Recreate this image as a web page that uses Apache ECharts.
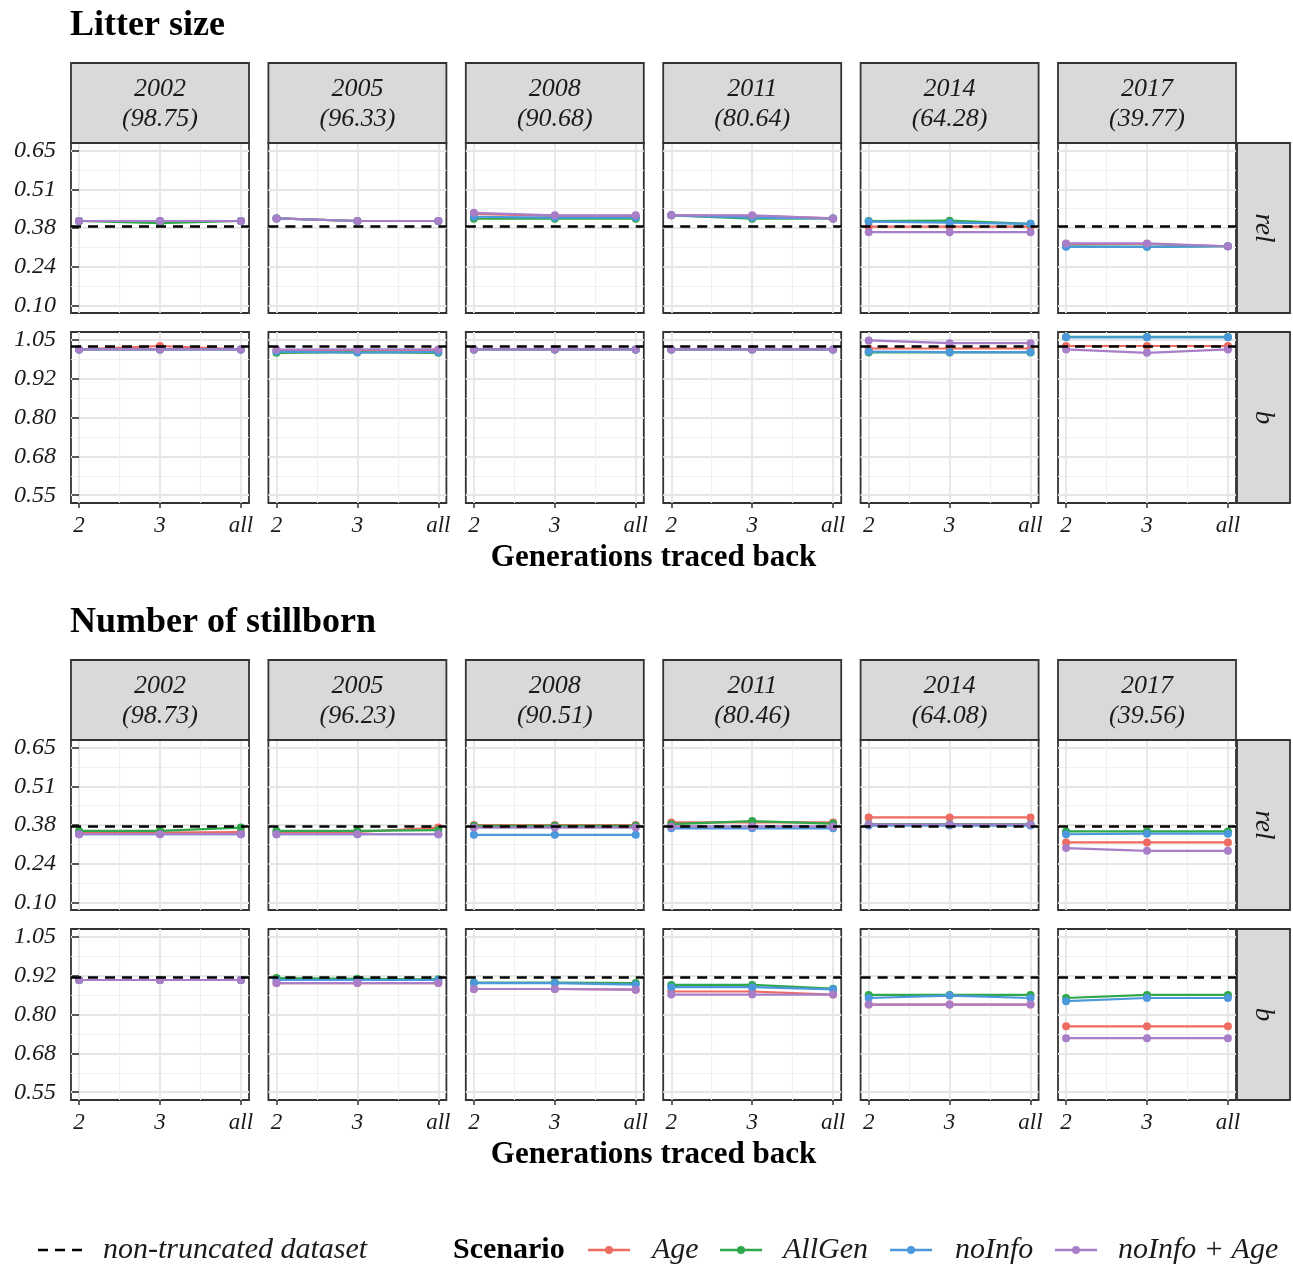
<!DOCTYPE html>
<html>
<head>
<meta charset="utf-8">
<script src="https://cdn.jsdelivr.net/npm/echarts@6/dist/echarts.min.js"></script>
<style>
  html, body { margin: 0; padding: 0; background: #ffffff; }
  #chart { width: 1293px; height: 1266px; }
</style>
</head>
<body>
<div id="chart"></div>
<script>
// ---- data ---------------------------------------------------------------
const generations = ['2', '3', 'all'];
const years = ['2002', '2005', '2008', '2011', '2014', '2017'];
const litterShares = ['98.75', '96.33', '90.68', '80.64', '64.28', '39.77'];
const stillbornShares = ['98.73', '96.23', '90.51', '80.46', '64.08', '39.56'];
const scenarios = ['Age', 'AllGen', 'noInfo', 'noInfo + Age'];

const relTicks = [0.1, 0.2375, 0.375, 0.5125, 0.65];
const relTickLabels = ['0.10', '0.24', '0.38', '0.51', '0.65'];
const bTicks = [0.55, 0.675, 0.8, 0.925, 1.05];
const bTickLabels = ['0.55', '0.68', '0.80', '0.92', '1.05'];

// values of the non-truncated dataset (dashed reference)
const litterRelRef = 0.379;
const litterBRef = 1.029;
const stillbornRelRef = 0.373;
const stillbornBRef = 0.922;

// Litter size – rel, one row per year, columns = generations traced back
const litterRelAge        = [[0.400, 0.400, 0.400], [0.409, 0.400, 0.400], [0.425, 0.418, 0.418], [0.420, 0.418, 0.409], [0.380, 0.380, 0.380], [0.318, 0.318, 0.310]];
const litterRelAllGen     = [[0.400, 0.392, 0.400], [0.409, 0.400, 0.400], [0.408, 0.408, 0.408], [0.420, 0.408, 0.409], [0.400, 0.401, 0.390], [0.310, 0.308, 0.310]];
const litterRelNoInfo     = [[0.400, 0.400, 0.400], [0.409, 0.400, 0.400], [0.415, 0.412, 0.412], [0.420, 0.412, 0.409], [0.398, 0.394, 0.390], [0.308, 0.308, 0.310]];
const litterRelNoInfoAge  = [[0.400, 0.400, 0.400], [0.409, 0.400, 0.400], [0.429, 0.420, 0.420], [0.420, 0.420, 0.409], [0.360, 0.360, 0.360], [0.320, 0.320, 0.310]];

// Litter size – b
const litterBAge          = [[1.019, 1.030, 1.019], [1.017, 1.017, 1.017], [1.019, 1.019, 1.019], [1.019, 1.019, 1.019], [1.022, 1.022, 1.022], [1.030, 1.030, 1.030]];
const litterBAllGen       = [[1.019, 1.019, 1.019], [1.008, 1.010, 1.008], [1.019, 1.019, 1.019], [1.019, 1.019, 1.019], [1.009, 1.009, 1.009], [1.059, 1.059, 1.059]];
const litterBNoInfo       = [[1.019, 1.019, 1.019], [1.012, 1.009, 1.011], [1.019, 1.019, 1.019], [1.019, 1.019, 1.019], [1.012, 1.010, 1.010], [1.058, 1.058, 1.058]];
const litterBNoInfoAge    = [[1.019, 1.019, 1.019], [1.018, 1.019, 1.019], [1.019, 1.019, 1.019], [1.019, 1.019, 1.019], [1.048, 1.039, 1.039], [1.019, 1.008, 1.019]];

// Number of stillborn – rel
const stillRelAge         = [[0.348, 0.348, 0.350], [0.350, 0.350, 0.366], [0.375, 0.375, 0.375], [0.384, 0.384, 0.384], [0.402, 0.402, 0.402], [0.313, 0.313, 0.313]];
const stillRelAllGen      = [[0.354, 0.354, 0.366], [0.354, 0.354, 0.357], [0.372, 0.372, 0.372], [0.378, 0.389, 0.380], [0.378, 0.378, 0.378], [0.352, 0.352, 0.352]];
const stillRelNoInfo      = [[0.342, 0.342, 0.342], [0.342, 0.342, 0.342], [0.340, 0.340, 0.340], [0.363, 0.363, 0.363], [0.373, 0.373, 0.373], [0.342, 0.344, 0.344]];
const stillRelNoInfoAge   = [[0.342, 0.342, 0.342], [0.342, 0.342, 0.342], [0.366, 0.366, 0.366], [0.370, 0.370, 0.370], [0.377, 0.377, 0.377], [0.293, 0.283, 0.283]];

// Number of stillborn – b
const stillBAge           = [[0.911, 0.911, 0.911], [0.901, 0.901, 0.901], [0.882, 0.882, 0.880], [0.874, 0.874, 0.864], [0.832, 0.832, 0.832], [0.762, 0.762, 0.762]];
const stillBAllGen        = [[0.911, 0.911, 0.911], [0.917, 0.915, 0.913], [0.903, 0.903, 0.901], [0.895, 0.895, 0.883], [0.863, 0.863, 0.863], [0.853, 0.863, 0.863]];
const stillBNoInfo        = [[0.911, 0.911, 0.911], [0.911, 0.911, 0.911], [0.901, 0.901, 0.896], [0.888, 0.888, 0.881], [0.853, 0.861, 0.853], [0.843, 0.853, 0.853]];
const stillBNoInfoAge     = [[0.911, 0.911, 0.911], [0.901, 0.901, 0.901], [0.882, 0.882, 0.880], [0.864, 0.864, 0.864], [0.832, 0.832, 0.832], [0.724, 0.724, 0.724]];

// ---- appearance ------------------------------------------------------------
const FONT = "'Liberation Serif', 'Times New Roman', serif";
const COLORS = ['#ee6b61', '#2fa84b', '#4b99dc', '#a87ec8'];
const INK = '#1a1a1a';
const FRAME = '#333333';
const GRID_MAJOR = '#e6e6e6';
const GRID_MINOR = '#f0f0f0';
const DASH = [10, 7];

const layout = {
  colLeft: 71,
  colStep: 197.4,
  panelW: 178,
  stripH: 80,
  rightStripX: 1237,
  rightStripW: 53,
  sections: [
    { titleY: 26, stripTop: 63, rowTops: [143, 332], rowH: [170, 171], xTitleY: 558 },
    { titleY: 623, stripTop: 660, rowTops: [740, 929], rowH: [170, 171], xTitleY: 1155 }
  ]
};

const traits = [
  {
    title: 'Litter size',
    shares: litterShares,
    rows: [
      { param: 'rel', ref: litterRelRef, ticks: relTicks, labels: relTickLabels,
        values: [litterRelAge, litterRelAllGen, litterRelNoInfo, litterRelNoInfoAge] },
      { param: 'b', ref: litterBRef, ticks: bTicks, labels: bTickLabels,
        values: [litterBAge, litterBAllGen, litterBNoInfo, litterBNoInfoAge] }
    ]
  },
  {
    title: 'Number of stillborn',
    shares: stillbornShares,
    rows: [
      { param: 'rel', ref: stillbornRelRef, ticks: relTicks, labels: relTickLabels,
        values: [stillRelAge, stillRelAllGen, stillRelNoInfo, stillRelNoInfoAge] },
      { param: 'b', ref: stillbornBRef, ticks: bTicks, labels: bTickLabels,
        values: [stillBAge, stillBAllGen, stillBNoInfo, stillBNoInfoAge] }
    ]
  }
];

// ---- build option -----------------------------------------------------------
const grid = [], xAxis = [], yAxis = [], series = [], graphic = [];
const xMajor = generations.map((_, k) => k);
const xMinor = xMajor.slice(1).map((v, i) => (v + xMajor[i]) / 2);
const xSpan = xMajor[xMajor.length - 1] - xMajor[0];
const xMin = xMajor[0] - xSpan * 0.05, xMax = xMajor[xMajor.length - 1] + xSpan * 0.05;

let g = 0;
traits.forEach((trait, t) => {
  const sec = layout.sections[t];

  // trait heading
  graphic.push({
    type: 'text', x: layout.colLeft - 1, y: sec.titleY,
    style: { text: trait.title, font: `bold 36px ${FONT}`, fill: '#000', align: 'left', verticalAlign: 'middle' }
  });

  // column strips
  years.forEach((year, c) => {
    const left = layout.colLeft + c * layout.colStep;
    graphic.push({
      type: 'rect', shape: { x: left, y: sec.stripTop, width: layout.panelW, height: layout.stripH },
      style: { fill: '#d9d9d9', stroke: FRAME, lineWidth: 1.8 }, z: 10
    });
    graphic.push({
      type: 'text', x: left + layout.panelW / 2, y: sec.stripTop + layout.stripH / 2 + 1, z: 11,
      style: { text: `${year}\n(${trait.shares[c]})`, font: `italic 26px ${FONT}`, lineHeight: 30,
               fill: INK, align: 'center', verticalAlign: 'middle' }
    });
  });

  // x-axis title
  graphic.push({
    type: 'text',
    x: (layout.colLeft + layout.colLeft + 5 * layout.colStep + layout.panelW) / 2, y: sec.xTitleY,
    style: { text: 'Generations traced back', font: `bold 31px ${FONT}`, fill: '#000', align: 'center', verticalAlign: 'middle' }
  });

  trait.rows.forEach((row, r) => {
    const top = sec.rowTops[r], h = sec.rowH[r];
    const lo = row.ticks[0], hi = row.ticks[row.ticks.length - 1];
    const span = hi - lo;
    const yMin = lo - span * 0.05, yMax = hi + span * 0.05;
    const yMinor = row.ticks.slice(1).map((v, i) => (v + row.ticks[i]) / 2);
    const isBottom = r === trait.rows.length - 1;
    const tickLabel = v => {
      const i = row.ticks.findIndex(tv => Math.abs(tv - v) < 1e-9);
      return i >= 0 ? row.labels[i] : '';
    };

    // row strip on the right
    graphic.push({
      type: 'rect', shape: { x: layout.rightStripX, y: top, width: layout.rightStripW, height: h },
      style: { fill: '#d9d9d9', stroke: FRAME, lineWidth: 1.8 }, z: 10
    });
    graphic.push({
      type: 'text', x: layout.rightStripX + layout.rightStripW / 2, y: top + h / 2, rotation: -Math.PI / 2, z: 11,
      style: { text: row.param, font: `italic 27px ${FONT}`, fill: INK, align: 'center', verticalAlign: 'middle' }
    });

    years.forEach((year, c) => {
      const isLeft = c === 0;
      const left = layout.colLeft + c * layout.colStep;
      grid.push({
        left, top, width: layout.panelW, height: h,
        show: true, backgroundColor: '#ffffff', borderColor: FRAME, borderWidth: 1.8
      });

      // major x axis (labels, ticks, major grid)
      xAxis.push({
        gridIndex: g, type: 'value', min: xMin, max: xMax,
        axisLine: { show: false },
        axisTick: { show: isBottom, customValues: xMajor, length: 5, lineStyle: { color: FRAME, width: 1.5 } },
        axisLabel: { show: isBottom, customValues: xMajor, formatter: v => generations[Math.round(v)],
                     margin: 11, fontFamily: FONT, fontStyle: 'italic', fontSize: 23, color: INK },
        splitLine: { show: true, lineStyle: { color: GRID_MAJOR, width: 1.8 } }
      });
      // minor x grid
      xAxis.push({
        gridIndex: g, type: 'value', min: xMin, max: xMax,
        axisLine: { show: false },
        axisTick: { show: false, customValues: xMinor },
        axisLabel: { show: false },
        splitLine: { show: true, lineStyle: { color: GRID_MINOR, width: 1.2 } }
      });
      // major y axis
      yAxis.push({
        gridIndex: g, type: 'value', min: yMin, max: yMax,
        axisLine: { show: false },
        axisTick: { show: isLeft, customValues: row.ticks, length: 7, lineStyle: { color: FRAME, width: 1.6 } },
        axisLabel: { show: isLeft, customValues: row.ticks, formatter: tickLabel,
                     margin: 15, fontFamily: FONT, fontStyle: 'italic', fontSize: 24, color: INK },
        splitLine: { show: true, lineStyle: { color: GRID_MAJOR, width: 1.8 } }
      });
      // minor y grid
      yAxis.push({
        gridIndex: g, type: 'value', min: yMin, max: yMax,
        axisLine: { show: false },
        axisTick: { show: false, customValues: yMinor },
        axisLabel: { show: false },
        splitLine: { show: true, lineStyle: { color: GRID_MINOR, width: 1.2 } }
      });

      // dashed reference for the non-truncated dataset
      series.push({
        type: 'line', name: 'non-truncated dataset',
        xAxisIndex: 2 * g, yAxisIndex: 2 * g, data: [], silent: true, z: 2,
        symbol: 'none', lineStyle: { color: '#000', type: DASH, width: 2.5 },
        markLine: {
          silent: true, symbol: 'none', animation: false,
          label: { show: false },
          lineStyle: { color: '#000', type: DASH, width: 2.5 },
          data: [{ yAxis: row.ref }]
        }
      });

      // one line per scenario
      scenarios.forEach((name, s) => {
        series.push({
          type: 'line', name,
          xAxisIndex: 2 * g, yAxisIndex: 2 * g, z: 3,
          data: generations.map((_, k) => [k, row.values[s][c][k]]),
          symbol: 'circle', symbolSize: 8, showSymbol: true,
          lineStyle: { color: COLORS[s], width: 2.2 },
          itemStyle: { color: COLORS[s] },
          emphasis: { disabled: true },
          animation: false
        });
      });
      g++;
    });
  });
});

// ---- legend -----------------------------------------------------------------
const legendY = 1250;
graphic.push({
  type: 'line', shape: { x1: 38, y1: legendY, x2: 88, y2: legendY },
  style: { stroke: '#000', lineWidth: 2.5, lineDash: DASH }
});
graphic.push({
  type: 'text', x: 103, y: legendY,
  style: { text: 'non-truncated dataset', font: `italic 30px ${FONT}`, fill: INK, align: 'left', verticalAlign: 'middle' }
});
graphic.push({
  type: 'text', x: 453, y: legendY,
  style: { text: 'Scenario', font: `bold 30px ${FONT}`, fill: '#000', align: 'left', verticalAlign: 'middle' }
});
const legendKeyX = [588, 720, 890, 1055];
const legendTextX = [652, 783, 955, 1118];
scenarios.forEach((name, s) => {
  const x0 = legendKeyX[s];
  graphic.push({
    type: 'line', shape: { x1: x0, y1: legendY, x2: x0 + 42, y2: legendY },
    style: { stroke: COLORS[s], lineWidth: 2.4 }
  });
  graphic.push({
    type: 'circle', shape: { cx: x0 + 21, cy: legendY, r: 4 },
    style: { fill: COLORS[s] }
  });
  graphic.push({
    type: 'text', x: legendTextX[s], y: legendY,
    style: { text: name, font: `italic 30px ${FONT}`, fill: INK, align: 'left', verticalAlign: 'middle' }
  });
});

const chart = echarts.init(document.getElementById('chart'), null, { renderer: 'canvas' });
chart.setOption({
  backgroundColor: '#ffffff',
  animation: false,
  textStyle: { fontFamily: FONT },
  grid, xAxis, yAxis, series, graphic
});
</script>
</body>
</html>
